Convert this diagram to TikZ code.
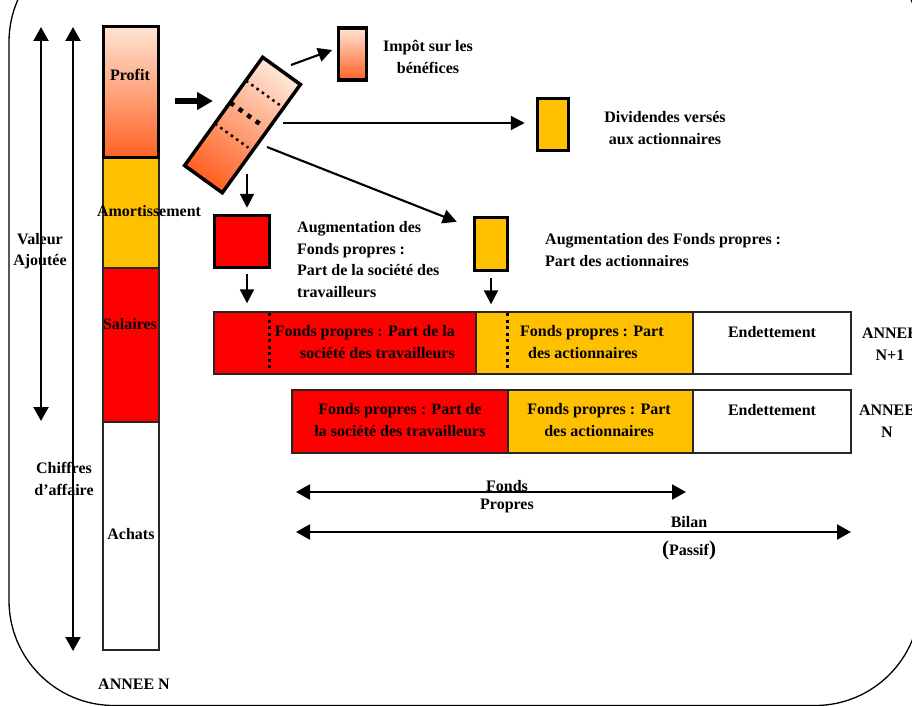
\documentclass[tikz,border=0pt]{standalone}
\usepackage{fontspec}
\setmainfont{Liberation Serif}
\usetikzlibrary{arrows.meta,calc}
\definecolor{gold}{HTML}{FFC000}
\definecolor{pure}{HTML}{FF0000}
\definecolor{peach}{RGB}{254,228,212}
\definecolor{flame}{RGB}{255,98,36}
\tikzset{
  every node/.style={font=\fontsize{16}{21.5}\selectfont\bfseries, inner sep=0pt},
  thickbox/.style={draw=black, line width=3.5pt, rectangle, inner sep=0pt},
  thinbox/.style={draw=black!85, line width=1.4pt, rectangle, inner sep=0pt},
  arr/.style={line width=2.1pt, -{Triangle[length=14pt,width=14pt]}},
  darr/.style={line width=2.1pt, {Triangle[length=14pt,width=15pt]}-{Triangle[length=14pt,width=15pt]}},
  grad/.style={top color=peach, bottom color=flame},
  lbl/.style={align=center},
  dotline/.style={line width=3pt, dash pattern=on 3pt off 3.5pt},
  smalldots/.style={line width=2.5pt, dash pattern=on 2.5pt off 4pt},
  bigdots/.style={line width=4.5pt, dash pattern=on 4.5pt off 6pt},
}
\begin{document}
\begin{tikzpicture}[x=1pt,y=-1pt]
\useasboundingbox (0,0) rectangle (912,706);
\clip (0,0) rectangle (912,706);
% frame
\draw[line width=1.3pt, rounded corners=105pt] (9,-63) rectangle (920,705.5);
% left arrows
\coordinate (va1) at (41,27); \coordinate (va2) at (41,421);
\draw[darr] (va1) -- (va2);
\coordinate (ca1) at (73,27); \coordinate (ca2) at (73,651);
\draw[darr] (ca1) -- (ca2);
% bar
\node[thinbox, fill=white, minimum width=56pt, minimum height=228pt] (achats) at (131,536) {};
\node[thinbox, fill=pure, minimum width=56pt, minimum height=154pt] (salaires) at (131,345) {};
\node[thinbox, fill=gold, minimum width=56pt, minimum height=110pt] (amort) at (131,213) {};
\node[thickbox, grad, minimum width=55pt, minimum height=131pt] (profit) at (131,92) {};
\node (tprofit) at (130,75) {Profit};
\node (tamort) at (149,211) {Amortissement};
\node (tsal) at (130,324) {Salaires};
\node (tach) at (131,534) {Achats};
\node (tannee) at (134,684) {ANNEE N};
\node[lbl] (tva) at (40,251) {Valeur\\Ajoutée};
\node[lbl] (tca) at (64,479) {Chiffres\\d’affaire};
% thick arrow
\coordinate (ta1) at (175,101); \coordinate (ta2) at (213,101);
\draw[line width=5.5pt, -{Triangle[length=16pt,width=17pt]}] (ta1) -- (ta2);
% rotated distribution box
\node[thickbox, grad, shading angle=-35.8, rotate=-35.8, minimum width=46.5pt, minimum height=133.5pt] (dist) at (242.5,125) {};
\begin{scope}[shift={(dist.center)}, rotate=-35.8]
 \draw[smalldots] (-23,-38) -- (19,-38);
 \draw[bigdots] (-23,-11) -- (15,-11);
 \draw[smalldots] (-23,15) -- (18,15);
\end{scope}
% small boxes
\node[thickbox, grad, minimum width=28pt, minimum height=52pt] (impot) at (352.5,54) {};
\node[thickbox, fill=gold, minimum width=31pt, minimum height=52pt] (divid) at (553,124.5) {};
\node[thickbox, fill=pure, minimum width=55pt, minimum height=52pt] (redbox) at (242,241.5) {};
\node[thickbox, fill=gold, minimum width=33pt, minimum height=53pt] (ybox) at (491,244) {};
\node[lbl] (timpot) at (428,57) {Impôt sur les\\bénéfices};
\node[lbl] (tdiv) at (665,128) {Dividendes versés\\aux actionnaires};
\node[align=left, anchor=west] (taug1) at (297,259.5) {Augmentation des\\Fonds propres :\\Part de la société des\\travailleurs};
\node[align=left, anchor=west] (taug2) at (545,250) {Augmentation des Fonds propres :\\Part des actionnaires};
% connectors from distribution box
\coordinate (d1) at (291,65);
\coordinate (d2) at (283,123);
\coordinate (d3) at (267,147);
\coordinate (d4) at (247,174);
\draw[arr, shorten >=5pt] (d1) -- (impot.160);
\draw[arr, shorten >=11pt] (d2) -- (divid.west |- d2);
\draw[arr] (d3) -- ([xshift=-16pt,yshift=-6pt]ybox.north west);
\draw[arr, shorten >=6pt] (d4) -- (d4 |- redbox.north);
% rows
\node[thinbox, fill=pure, minimum width=262pt, minimum height=62pt] (r1a) at (345,343) {};
\node[thinbox, fill=gold, minimum width=217pt, minimum height=62pt] (r1b) at (584.5,343) {};
\node[thinbox, fill=white, minimum width=158pt, minimum height=62pt] (r1c) at (772,343) {};
\draw[dotline] ([xshift=56pt,yshift=-2pt]r1a.north west) -- ([xshift=56pt,yshift=3pt]r1a.south west);
\draw[dotline] ([xshift=32pt,yshift=-2pt]r1b.north west) -- ([xshift=32pt,yshift=3pt]r1b.south west);
\node[thinbox, fill=pure, minimum width=216pt, minimum height=63pt] (r2a) at (400,421.5) {};
\node[thinbox, fill=gold, minimum width=185pt, minimum height=63pt] (r2b) at (600.5,421.5) {};
\node[thinbox, fill=white, minimum width=158pt, minimum height=63pt] (r2c) at (772,421.5) {};
\draw[arr, shorten <=5pt, shorten >=8pt] (redbox.south -| d4) -- (r1a.north -| d4);
\draw[arr, shorten <=6pt, shorten >=7pt] (ybox.south) -- (ybox.south |- r1b.north);
\node[align=right, anchor=east] (t1a) at (455,342) {Fonds propres : Part de la\\société des travailleurs};
\node[align=left, anchor=west] (t1b) at (520,342) {Fonds propres : Part\\\hspace*{8pt}des actionnaires};
\node (t1c) at (772,332) {Endettement};
\node[lbl] (t1d) at (890,344) {ANNEE\\N+1};
\node[lbl] (t2a) at (400,420) {Fonds propres : Part de\\la société des travailleurs};
\node[lbl] (t2b) at (599,420) {Fonds propres : Part\\des actionnaires};
\node (t2c) at (772,410) {Endettement};
\node[lbl] (t2d) at (887,421) {ANNEE\\N};
% bottom arrows
\coordinate (fp1) at (296,492); \coordinate (fp2) at (686,492);
\draw[darr] (fp1) -- (fp2);
\node (tfonds) at (507,486) {Fonds};
\node (tpropres) at (507,506) {Propres};
\coordinate (bl1) at (296,532); \coordinate (bl2) at (851,532);
\draw[darr] (bl1) -- (bl2);
\node (tbilan) at (689,522) {Bilan};
\node (tpassif) at (689,550) {{\fontsize{21}{21}\selectfont(}Passif{\fontsize{21}{21}\selectfont)}};
\end{tikzpicture}
\end{document}
